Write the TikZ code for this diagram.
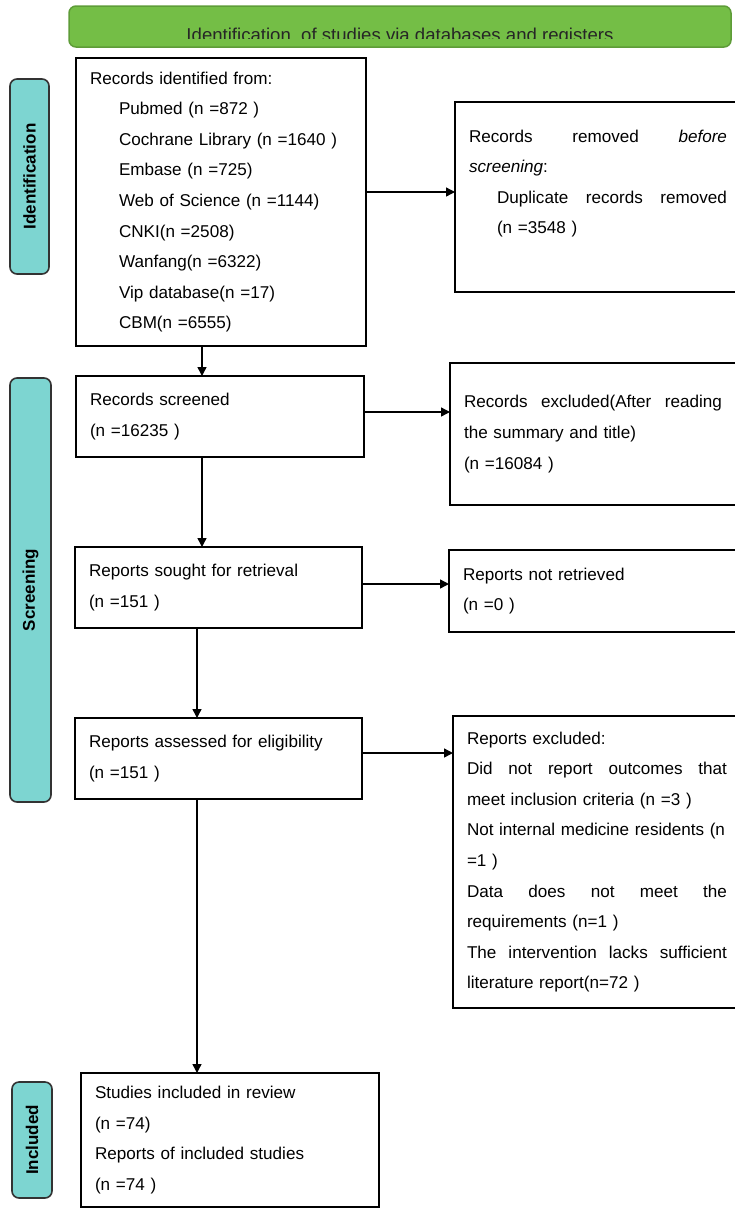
\documentclass[tikz,border=0pt]{standalone}
\usepackage{fontspec}
\setmainfont{Liberation Sans}
\usetikzlibrary{arrows.meta,calc}
\definecolor{bangreen}{HTML}{74BE46}
\definecolor{banborder}{HTML}{5E9C38}
\definecolor{stageteal}{HTML}{7DD5D1}
\definecolor{stageborder}{HTML}{333333}
\newcommand{\jline}[2]{\makebox[#1][l]{#2}}
\begin{document}
\begin{tikzpicture}[x=1pt,y=-1pt,
  every node/.style={inner sep=0pt, outer sep=0pt},
  box/.style={draw=black, line width=1.4pt, fill=white, anchor=north west,
    inner xsep=14pt, inner ysep=0pt, align=left,
    font=\fontsize{17.1}{30.6}\selectfont},
  stage/.style={draw=stageborder, line width=1.6pt, fill=stageteal,
    rounded corners=7pt, rotate=90,
    font=\fontsize{17}{20}\selectfont\bfseries},
  arr/.style={line width=1.4pt, -{Triangle[length=9pt,width=9pt]}},
]
\useasboundingbox (0,0) rectangle (735,1211);
\clip (0,0) rectangle (735,1211);

% banner
\node[draw=banborder, line width=1.5pt, fill=bangreen, rounded corners=7pt,
  minimum width=662pt, minimum height=41pt, anchor=north west] (ban) at (69,6) {};
\begin{scope}
\clip (69,6) rectangle (731,38);
\node[anchor=base, font=\fontsize{18.6}{20}\selectfont, text=black!85] (bantext) at (400,41)
  {Identification\ \ of studies via databases and registers};
\end{scope}

% stage labels
\node[stage, minimum width=195pt, minimum height=39pt] (lid) at (29.5,176.5) {Identification};
\node[stage, minimum width=424pt, minimum height=41pt] (lscr) at (30.5,590) {Screening};
\node[stage, minimum width=116pt, minimum height=40pt] (linc) at (32,1140) {Included};

% left column
\node[box, text width=262pt, minimum height=288pt] (rec) at (76,58)
  {Records identified from:\\
   \hspace*{29pt}Pubmed (n =872 )\\
   \hspace*{29pt}Cochrane Library (n =1640 )\\
   \hspace*{29pt}Embase (n =725)\\
   \hspace*{29pt}Web of Science (n =1144)\\
   \hspace*{29pt}CNKI(n =2508)\\
   \hspace*{29pt}Wanfang(n =6322)\\
   \hspace*{29pt}Vip database(n =17)\\
   \hspace*{29pt}CBM(n =6555)};

\node[box, text width=260pt, minimum height=81pt] (scr) at (76,376)
  {Records screened\\(n =16235 )};
\node[box, text width=259pt, minimum height=81pt] (sought) at (75,547)
  {Reports sought for retrieval\\(n =151 )};
\node[box, text width=259pt, minimum height=81pt] (ass) at (75,718)
  {Reports assessed for eligibility\\(n =151 )};
\node[box, text width=270pt, minimum height=134pt] (inc) at (81,1073)
  {Studies included in review\\(n =74)\\Reports of included studies\\(n =74 )};

% right column
\node[box, text width=258pt, minimum height=190pt] (rem) at (455,102)
  {\jline{258pt}{Records\hfill removed\hfill \textit{before}}\\
   \textit{screening}:\\
   \hspace*{28pt}\jline{230pt}{Duplicate\hfill records\hfill removed}\\
   \hspace*{28pt}(n =3548 )\\
   \mbox{}};
\node[box, text width=263pt, minimum height=142pt] (exc) at (450,363)
  {\jline{258pt}{Records\hfill excluded(After\hfill reading}\\
   the summary and title)\\
   (n =16084 )};
\node[box, text width=264pt, minimum height=82pt] (notret) at (449,550)
  {Reports not retrieved\\(n =0 )};
\node[box, text width=262pt, minimum height=292pt] (repexc) at (453,716)
  {Reports excluded:\\
   \jline{260pt}{Did\hfill not\hfill report\hfill outcomes\hfill that}\\
   meet inclusion criteria (n =3 )\\
   \jline{258pt}{Not\hfill internal\hfill medicine\hfill residents\hfill (n}\\
   =1 )\\
   \jline{260pt}{Data\hfill does\hfill not\hfill meet\hfill the}\\
   requirements (n=1 )\\
   \jline{260pt}{The\hfill intervention\hfill lacks\hfill sufficient}\\
   literature report(n=72 )};

% connectors
\coordinate (a1) at ($(rec.east)+(0,-10)$);
\draw[arr] (a1) -- (a1 -| rem.west);
\coordinate (a2) at ($(rec.south)+(-19,0)$);
\draw[arr] (a2) -- (a2 |- scr.north);
\coordinate (a3) at ($(scr.east)+(0,-4.5)$);
\draw[arr] (a3) -- (a3 -| exc.west);
\coordinate (a4) at ($(scr.south)+(-18,0)$);
\draw[arr] (a4) -- (a4 |- sought.north);
\coordinate (a5) at ($(sought.east)+(0,-3.5)$);
\draw[arr] (a5) -- (a5 -| notret.west);
\coordinate (a6) at ($(sought.south)+(-21.5,0)$);
\draw[arr] (a6) -- (a6 |- ass.north);
\coordinate (a7) at ($(ass.east)+(0,-5.5)$);
\draw[arr] (a7) -- (a7 -| repexc.west);
\coordinate (a8) at ($(ass.south)+(-21.5,0)$);
\draw[arr] (a8) -- (a8 |- inc.north);
\end{tikzpicture}
\end{document}
